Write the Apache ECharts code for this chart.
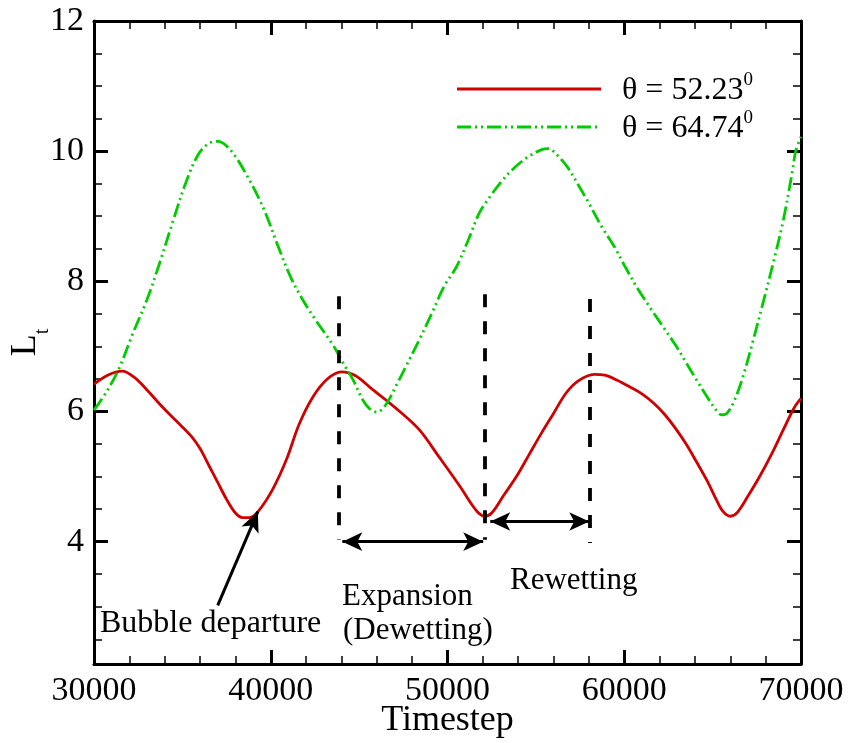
<!DOCTYPE html>
<html>
<head>
<meta charset="utf-8">
<script src="https://cdn.jsdelivr.net/npm/echarts@6/dist/echarts.min.js"></script>
<style>
html,body{margin:0;padding:0;background:#fff;}
#chart{width:849px;height:743px;}
</style>
</head>
<body>
<div id="chart"></div>
<script>
// ---- data ----
const timestepRed = [30000,30800,31600,32300,33000,33700,34300,34900,35500,36000,36500,37000,37500,38000,38400,38800,39300,40100,40900,41600,42400,43200,44000,44800,45700,46500,47300,48400,49500,50700,51400,51800,52100,52500,53200,53900,54600,55300,56000,56700,57400,58300,58900,59600,60300,61000,61700,62300,62900,63500,64100,64700,65200,65600,66000,66400,67000,67700,68400,69000,69600,70000];
const lengthRed   = [6.42,6.56,6.62,6.52,6.33,6.12,5.95,5.79,5.62,5.43,5.17,4.91,4.65,4.44,4.37,4.37,4.47,4.80,5.27,5.80,6.23,6.50,6.61,6.55,6.35,6.18,6.00,5.72,5.31,4.85,4.56,4.43,4.39,4.44,4.72,5.00,5.33,5.66,5.97,6.28,6.47,6.57,6.56,6.48,6.38,6.27,6.12,5.95,5.74,5.50,5.22,4.93,4.65,4.46,4.39,4.45,4.70,5.02,5.38,5.72,6.05,6.20];
const timestepGreen = [30000,30700,31400,32200,33000,33700,34500,35200,35900,36500,37000,37500,38100,38600,39100,39700,40400,41100,41800,42500,43500,44100,44650,45200,45600,46000,46500,47100,47700,48400,49100,49800,50500,51200,51800,52400,53100,53800,54600,55300,55700,56200,56800,57400,58000,58700,59400,60100,60800,61500,62200,62900,63500,64100,64700,65200,65500,65800,66200,66700,67300,67900,68500,69000,69500,69700,70000];
const lengthGreen   = [6.02,6.30,6.65,7.20,7.72,8.27,8.95,9.52,9.95,10.12,10.15,10.08,9.88,9.65,9.40,9.05,8.55,8.08,7.72,7.42,7.03,6.74,6.49,6.18,6.04,5.99,6.10,6.40,6.72,7.10,7.50,7.92,8.22,8.65,9.05,9.30,9.55,9.75,9.92,10.02,10.04,9.94,9.75,9.48,9.20,8.85,8.55,8.20,7.87,7.58,7.30,7.02,6.75,6.48,6.22,6.02,5.95,5.97,6.15,6.52,7.10,7.72,8.36,8.94,9.67,10.00,10.22];
const seriesNames = ['θ = 52.23', 'θ = 64.74'];
const xTickLabels = [30000, 40000, 50000, 60000, 70000];
const yTickLabels = [4, 6, 8, 10, 12];
// annotation geometry in data units
const dashedX = [43850, 52090, 58020];
const dashedTop = [7.77, 7.80, 7.73];
const dashedBottom = [4.03, 4.03, 3.98];
const expansionArrow = [[44050, 4.00], [52020, 4.00]];
const rewettingArrow = [[52420, 4.31], [58020, 4.31]];
const departureArrow = [[37000, 3.02], [39270, 4.46]];
const annotationTexts = ['Bubble departure', 'Expansion', '(Dewetting)', 'Rewetting'];

const FONT = '"Liberation Serif", "Times New Roman", serif';
const zip = (a, b) => a.map((v, i) => [v, b[i]]);

const chart = echarts.init(document.getElementById('chart'), null, {renderer: 'canvas'});

function xAxisCfg(pos, labels, withName) {
  const cfg = {
    type: 'value', position: pos, min: 30000, max: 70000, interval: 10000,
    axisLine: {show: true, onZero: false, lineStyle: {color: '#000', width: 3}},
    axisTick: {show: true, inside: true, length: 14, lineStyle: {color: '#000', width: 3}},
    minorTick: {show: true, splitNumber: 5, length: 8, lineStyle: {color: '#000', width: 1.5}},
    splitLine: {show: false}, minorSplitLine: {show: false},
    axisLabel: {show: labels, margin: 10, color: '#000', fontFamily: FONT, fontSize: 34,
      formatter: v => xTickLabels.includes(v) ? String(v) : ''}
  };
  if (withName) {
    cfg.name = 'Timestep';
    cfg.nameLocation = 'middle';
    cfg.nameGap = 39;
    cfg.nameMoveOverlap = false;
    cfg.nameTextStyle = {color: '#000', fontFamily: FONT, fontSize: 36};
  }
  return cfg;
}
function yAxisCfg(pos, labels, withName) {
  const cfg = {
    type: 'value', position: pos, min: 2.12, max: 12, splitNumber: 5,
    axisLine: {show: true, onZero: false, lineStyle: {color: '#000', width: 3}},
    axisTick: {show: true, inside: true, length: 14, lineStyle: {color: '#000', width: 3}},
    minorTick: {show: true, splitNumber: 4, length: 8, lineStyle: {color: '#000', width: 1.5}},
    splitLine: {show: false}, minorSplitLine: {show: false},
    axisLabel: {show: labels, margin: 10, color: '#000', fontFamily: FONT, fontSize: 34,
      formatter: v => yTickLabels.includes(v) ? String(v) : ''}
  };
  if (withName) {
    cfg.name = '{L|L}{t|t}';
    cfg.nameLocation = 'middle';
    cfg.nameRotate = 90;
    cfg.nameGap = 16;
    cfg.nameMoveOverlap = false;
    cfg.nameTextStyle = {
      color: '#000',
      rich: {
        L: {fontFamily: FONT, fontSize: 36, lineHeight: 36, verticalAlign: 'top', color: '#000'},
        t: {fontFamily: FONT, fontSize: 20, lineHeight: 70, verticalAlign: 'middle', color: '#000'}
      }
    };
  }
  return cfg;
}

const dashedLines = dashedX.map((x, i) => [
  {coord: [x, dashedTop[i]], symbol: 'none', lineStyle: {color: '#000', width: 3.8, type: [13, 14]}},
  {coord: [x, dashedBottom[i]], symbol: 'none'}
]);
const arrowStyle = {color: '#000', width: 3, type: 'solid'};

const option = {
  animation: false,
  backgroundColor: '#fff',
  grid: {left: 94, right: 48, top: 21, bottom: 79, containLabel: false, outerBoundsMode: 'none'},
  xAxis: [xAxisCfg('bottom', true, true), xAxisCfg('top', false, false)],
  yAxis: [yAxisCfg('left', true, true), yAxisCfg('right', false, false)],
  series: [
    {
      name: seriesNames[0], type: 'line', data: zip(timestepRed, lengthRed),
      showSymbol: false, symbol: 'none', smooth: 0.35, clip: true,
      lineStyle: {color: '#d00000', width: 2.8}
    },
    {
      name: seriesNames[1], type: 'line', data: zip(timestepGreen, lengthGreen),
      showSymbol: false, symbol: 'none', smooth: 0.35, clip: true,
      lineStyle: {color: '#00cc00', width: 2.8, type: [14, 4, 2, 4, 2, 4], cap: 'butt'}
    },
    {
      name: 'annotations', type: 'line', data: [], silent: true,
      markLine: {
        silent: true, animation: false, symbol: 'none',
        label: {show: false},
        emphasis: {disabled: true},
        data: [
          ...dashedLines,
          [{coord: expansionArrow[0], symbol: 'arrow', symbolSize: [14, 20], lineStyle: arrowStyle},
           {coord: expansionArrow[1], symbol: 'arrow', symbolSize: [14, 20]}],
          [{coord: rewettingArrow[0], symbol: 'arrow', symbolSize: [14, 20], lineStyle: arrowStyle},
           {coord: rewettingArrow[1], symbol: 'arrow', symbolSize: [14, 20]}],
          [{coord: departureArrow[0], symbol: 'none', lineStyle: arrowStyle},
           {coord: departureArrow[1], symbol: 'arrow', symbolSize: [14, 20]}]
        ]
      }
    }
  ],
  graphic: [
    // legend
    {type: 'line', shape: {x1: 457, y1: 89, x2: 601, y2: 89},
      style: {stroke: '#d00000', lineWidth: 3}},
    {type: 'line', shape: {x1: 457, y1: 127, x2: 599, y2: 127},
      style: {stroke: '#00cc00', lineWidth: 3, lineDash: [14, 4, 2, 4, 2, 4]}},
    {type: 'text', x: 622, y: 89,
      style: {text: '{n|' + seriesNames[0] + '}{s|0}', align: 'left', verticalAlign: 'middle',
        rich: {n: {font: '32px ' + FONT, fill: '#000', lineHeight: 36, verticalAlign: 'bottom'},
               s: {font: '19px ' + FONT, fill: '#000', lineHeight: 36, verticalAlign: 'top'}}}},
    {type: 'text', x: 622, y: 127,
      style: {text: '{n|' + seriesNames[1] + '}{s|0}', align: 'left', verticalAlign: 'middle',
        rich: {n: {font: '32px ' + FONT, fill: '#000', lineHeight: 36, verticalAlign: 'bottom'},
               s: {font: '19px ' + FONT, fill: '#000', lineHeight: 36, verticalAlign: 'top'}}}},
    // annotation texts
    {type: 'text', x: 100, y: 624,
      style: {text: annotationTexts[0], font: '32px ' + FONT, fill: '#000', align: 'left', verticalAlign: 'middle'}},
    {type: 'text', x: 342, y: 597,
      style: {text: annotationTexts[1], font: '31px ' + FONT, fill: '#000', align: 'left', verticalAlign: 'middle'}},
    {type: 'text', x: 343, y: 631,
      style: {text: annotationTexts[2], font: '31px ' + FONT, fill: '#000', align: 'left', verticalAlign: 'middle'}},
    {type: 'text', x: 510, y: 581,
      style: {text: annotationTexts[3], font: '31px ' + FONT, fill: '#000', align: 'left', verticalAlign: 'middle'}}
  ]
};
chart.setOption(option);
</script>
</body>
</html>
